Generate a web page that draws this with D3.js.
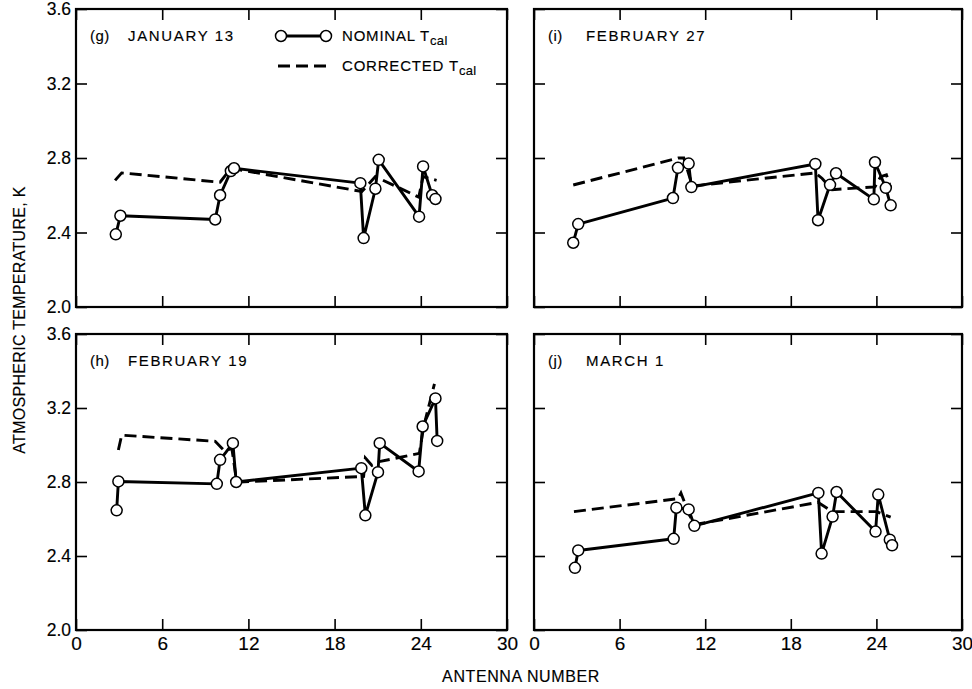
<!DOCTYPE html>
<html>
<head>
<meta charset="utf-8">
<script src="https://cdn.jsdelivr.net/npm/d3@7"></script>
<style>
  body { margin: 0; background: #fff; }
  svg text { font-family: "Liberation Sans", Arial, sans-serif; fill: #000; stroke: #000; stroke-width: 0.15px; }
</style>
</head>
<body>
<svg class="chart" width="972" height="689"></svg>
<script>
// tick values
const xTicks = [0, 6, 12, 18, 24, 30];
const yTicks = [2.0, 2.4, 2.8, 3.2, 3.6];

// panel labels, in drawing order (top-left, top-right, bottom-left, bottom-right)
const panelLetters = ["(g)", "(i)", "(h)", "(j)"];
const panelDates = ["JANUARY 13", "FEBRUARY 27", "FEBRUARY 19", "MARCH 1"];

// (g) January 13
const gNomX = [2.77, 3.09, 9.69, 10.03, 10.78, 11.0, 19.79, 20.02, 20.84, 21.07, 23.88, 24.16, 24.79, 25.02];
const gNomY = [2.39, 2.49, 2.47, 2.60, 2.73, 2.745, 2.665, 2.37, 2.635, 2.79, 2.485, 2.755, 2.60, 2.58];
const gCorX = [2.72, 3.18, 10.03, 10.78, 19.9, 20.84, 23.86, 24.16, 25.1];
const gCorY = [2.68, 2.72, 2.67, 2.745, 2.62, 2.70, 2.59, 2.70, 2.68];

// (i) February 27
const iNomX = [2.75, 3.1, 9.74, 10.09, 10.84, 11.03, 19.72, 19.91, 20.75, 21.17, 23.82, 23.9, 24.66, 25.0];
const iNomY = [2.345, 2.445, 2.585, 2.747, 2.77, 2.644, 2.768, 2.466, 2.656, 2.718, 2.578, 2.777, 2.64, 2.546];
const iCorX = [2.75, 10.1, 10.5, 11.1, 19.72, 20.2, 20.9, 23.9, 24.3, 24.7, 25.0];
const iCorY = [2.655, 2.80, 2.80, 2.65, 2.72, 2.69, 2.63, 2.645, 2.70, 2.71, 2.64];

// (h) February 19
const hNomX = [2.83, 2.95, 9.8, 10.03, 10.92, 11.15, 19.86, 20.14, 21.02, 21.14, 23.85, 24.13, 25.02, 25.14];
const hNomY = [2.647, 2.803, 2.79, 2.92, 3.01, 2.80, 2.875, 2.62, 2.853, 3.01, 2.857, 3.10, 3.252, 3.022];
const hCorX = [2.95, 3.18, 9.69, 10.3, 10.85, 11.15, 11.43, 20.02, 20.14, 20.6, 21.1, 23.9, 24.2, 24.95];
const hCorY = [2.973, 3.053, 3.02, 2.97, 2.98, 2.82, 2.80, 2.83, 2.93, 2.89, 2.91, 2.955, 3.10, 3.33];

// (j) March 1
const jNomX = [2.87, 3.1, 9.79, 9.98, 10.84, 11.24, 19.93, 20.16, 20.93, 21.21, 23.94, 24.13, 24.94, 25.1];
const jNomY = [2.336, 2.43, 2.493, 2.661, 2.652, 2.563, 2.741, 2.413, 2.613, 2.746, 2.532, 2.732, 2.488, 2.458];
const jCorX = [2.8, 10.1, 10.3, 10.9, 11.3, 19.9, 20.9, 24.0, 25.0];
const jCorY = [2.64, 2.71, 2.74, 2.62, 2.57, 2.69, 2.64, 2.64, 2.61];

const nomX = [gNomX, iNomX, hNomX, jNomX];
const nomY = [gNomY, iNomY, hNomY, jNomY];
const corX = [gCorX, iCorX, hCorX, jCorX];
const corY = [gCorY, iCorY, hCorY, jCorY];

let svg = d3.select("svg.chart");

// panel frames
const frames = [
  {x0: 76, x1: 507, y0: 9, y1: 307},
  {x0: 534, x1: 962, y0: 9, y1: 307},
  {x0: 76, x1: 507, y0: 334, y1: 630},
  {x0: 534, x1: 962, y0: 334, y1: 630}
];

const tick = 11;
const lineW = 2.9;

frames.forEach(function (f, k) {
  let x = d3.scaleLinear().domain([0, 30]).range([f.x0, f.x1]);
  let y = d3.scaleLinear().domain([2.0, 3.6]).range([f.y1, f.y0]);
  let isLeft = k % 2 === 0, isBottom = k >= 2;

  let g = svg.append("g");

  // frame
  g.append("rect")
    .attr("x", f.x0).attr("y", f.y0)
    .attr("width", f.x1 - f.x0).attr("height", f.y1 - f.y0)
    .attr("fill", "none").attr("stroke", "#000").attr("stroke-width", 2.2);

  // inward ticks on all four sides
  let axes = [
    [d3.axisBottom(x).tickValues(xTicks).tickFormat(isBottom ? d3.format("d") : "").tickPadding(7), "translate(0," + f.y1 + ")", "x"],
    [d3.axisTop(x).tickValues(xTicks).tickFormat(""), "translate(0," + f.y0 + ")", "x"],
    [d3.axisLeft(y).tickValues(yTicks).tickFormat(isLeft ? d3.format(".1f") : "").tickPadding(5), "translate(" + f.x0 + ",0)", "y"],
    [d3.axisRight(y).tickValues(yTicks).tickFormat(""), "translate(" + f.x1 + ",0)", "y"]
  ];
  axes.forEach(function (a) {
    let ax = a[0].tickSizeInner(-tick).tickSizeOuter(0);
    let ga = g.append("g").attr("transform", a[1]).call(ax);
    ga.select(".domain").remove();
    ga.selectAll(".tick line").attr("stroke", "#000").attr("stroke-width", 1.6);
    ga.selectAll(".tick text")
      .attr("font-size", a[2] === "x" ? 19 : 17.5)
      .attr("font-family", a[2] === "x"
        ? "'Liberation Sans Narrow', 'Liberation Sans', Arial, sans-serif"
        : "'Liberation Sans', Arial, sans-serif");
  });

  // corrected (dashed)
  let cor = corX[k].map(function (v, i) { return [v, corY[k][i]]; });
  g.append("path")
    .datum(cor)
    .attr("fill", "none")
    .attr("stroke", "#000")
    .attr("stroke-width", lineW)
    .attr("stroke-dasharray", "12,6")
    .attr("d", d3.line().x(function (d) { return x(d[0]); }).y(function (d) { return y(d[1]); }));

  // nominal (solid with open circles)
  let nom = nomX[k].map(function (v, i) { return [v, nomY[k][i]]; });
  g.append("path")
    .datum(nom)
    .attr("fill", "none")
    .attr("stroke", "#000")
    .attr("stroke-width", lineW)
    .attr("stroke-linejoin", "round")
    .attr("d", d3.line().x(function (d) { return x(d[0]); }).y(function (d) { return y(d[1]); }));

  g.selectAll("circle.pt")
    .data(nom)
    .enter()
    .append("circle")
      .attr("class", "pt")
      .attr("cx", function (d) { return x(d[0]); })
      .attr("cy", function (d) { return y(d[1]); })
      .attr("r", 5.5)
      .attr("fill", "#fff")
      .attr("stroke", "#000")
      .attr("stroke-width", 1.5);

  // panel title
  g.append("text")
    .attr("x", f.x0 + 14).attr("y", f.y0 + 32)
    .attr("font-size", 15).attr("letter-spacing", 0.5)
    .text(panelLetters[k]);
  g.append("text")
    .attr("x", f.x0 + 52).attr("y", f.y0 + 32)
    .attr("font-size", 15).attr("letter-spacing", 1.65)
    .text(panelDates[k]);
});

// legend, inside panel (g)
let leg = svg.append("g");
leg.append("line")
  .attr("x1", 281).attr("x2", 326).attr("y1", 36).attr("y2", 36)
  .attr("stroke", "#000").attr("stroke-width", lineW);
leg.selectAll("circle")
  .data([281, 326])
  .enter()
  .append("circle")
    .attr("cx", function (d) { return d; }).attr("cy", 36).attr("r", 5.5)
    .attr("fill", "#fff").attr("stroke", "#000").attr("stroke-width", 1.5);
leg.append("line")
  .attr("x1", 278).attr("x2", 330).attr("y1", 66).attr("y2", 66)
  .attr("stroke", "#000").attr("stroke-width", lineW).attr("stroke-dasharray", "12,6");

let t1 = leg.append("text").attr("x", 342).attr("y", 41).attr("font-size", 15).attr("letter-spacing", 0.8);
t1.append("tspan").text("NOMINAL T");
t1.append("tspan").attr("dy", 4).attr("font-size", 13).attr("letter-spacing", 0.3).text("cal");
let t2 = leg.append("text").attr("x", 342).attr("y", 71).attr("font-size", 15).attr("letter-spacing", 0.8);
t2.append("tspan").text("CORRECTED T");
t2.append("tspan").attr("dy", 4).attr("font-size", 13).attr("letter-spacing", 0.3).text("cal");

// axis titles
svg.append("text")
  .attr("transform", "translate(25,320) rotate(-90)")
  .attr("text-anchor", "middle")
  .attr("font-size", 16).attr("letter-spacing", 0.3)
  .text("ATMOSPHERIC TEMPERATURE, K");

svg.append("text")
  .attr("x", 521).attr("y", 682)
  .attr("text-anchor", "middle")
  .attr("font-size", 16).attr("letter-spacing", 0.6)
  .text("ANTENNA NUMBER");
</script>
</body>
</html>
